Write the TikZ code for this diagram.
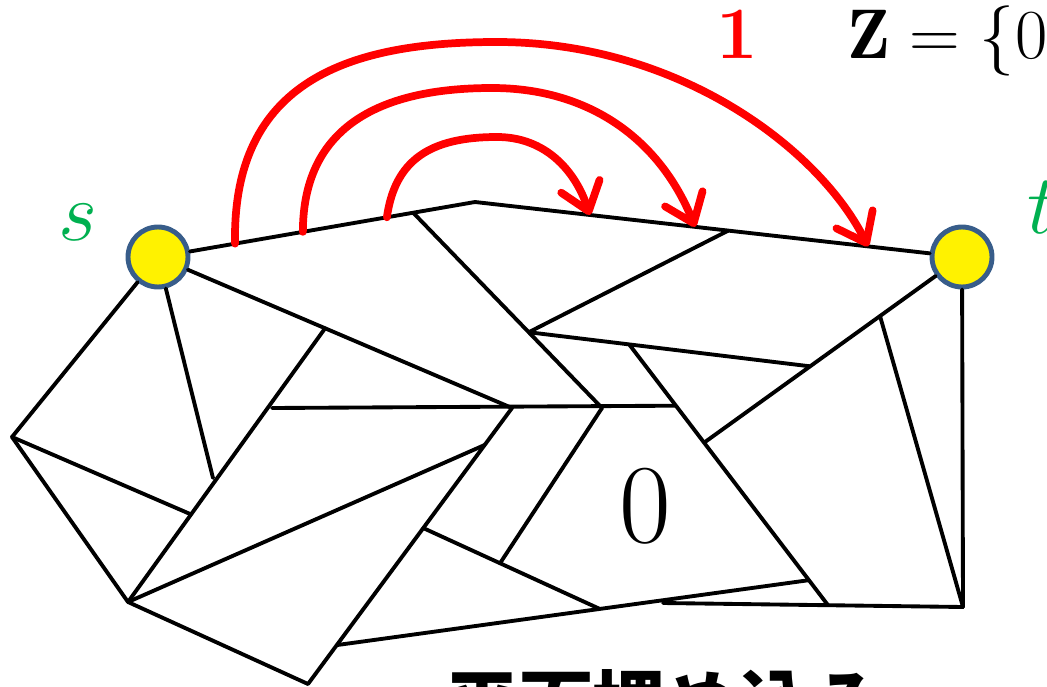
\RequirePackage{fix-cm}
\documentclass[tikz,border=0pt]{standalone}
\usepackage{amsmath,amssymb}
\usepackage{fontspec}
\newfontfamily\jpfont{Noto Sans CJK JP}
\usetikzlibrary{arrows.meta,calc}
\definecolor{vtxline}{RGB}{56,93,138}
\definecolor{lblgreen}{RGB}{0,176,80}

\begin{document}
\begin{tikzpicture}[x=0.02cm,y=-0.02cm,
    edge/.style={line width=2.2pt, line cap=round, line join=round},
    jump/.style={red, line width=4.4pt, line cap=round, -{Straight Barb[length=15pt,width=23pt,round]}},
    vtx/.style={circle, draw=vtxline, line width=2.8pt, fill=yellow, minimum size=1.2cm, inner sep=0pt}]
    \useasboundingbox (0,0) rectangle (1047,686);

    \node[vtx] (s) at (158,257) {};
    \node[vtx] (t) at (962,257) {};
    \node[text=lblgreen, font=\fontsize{48}{50}\selectfont, anchor=base] (slbl) at (78,240) {$s$};
    \node[text=lblgreen, font=\fontsize{48}{50}\selectfont, anchor=base west, inner sep=0pt] (tlbl) at (1027,233) {$t$};

    % corners of the faces
    \coordinate (P) at (475,202);
    \coordinate (C) at (602,408);
    \coordinate (F) at (705,442);
    \coordinate (O) at (512,408);
    \coordinate (Q) at (272,408);
    \coordinate (N) at (308,684);
    \coordinate (W) at (128,602);
    \coordinate (X) at (12,437);
    \coordinate (J) at (963,607);
    \coordinate (K) at (663,603);
    \coordinate (Z1) at (213,478);
    \coordinate (A) at ($(s)!0.805!(P)$);
    \coordinate (B) at ($(A)!0.612!(C)$);
    \coordinate (D) at ($(P)!0.52!(t)$);
    \coordinate (E) at ($(t)!0.591!(F)$);
    \coordinate (I) at ($(t)!0.319!(F)$);
    \coordinate (G) at ($(B)!0.357!(E)$);
    \coordinate (H) at ($(K)!0.55!(J)$);
    \coordinate (R) at ($(G)!0.235!(H)$);
    \coordinate (L) at ($(G)!0.904!(H)$);
    \coordinate (Y) at ($(s)!0.472!(O)$);
    \coordinate (V) at ($(O)!0.134!(N)$);
    \coordinate (U) at ($(O)!0.435!(N)$);
    \coordinate (M) at ($(O)!0.859!(N)$);
    \coordinate (S2) at ($(M)!0.557!(L)$);
    \coordinate (S1) at ($(U)!0.435!(S2)$);
    \coordinate (Z2) at ($(Y)!0.68!(W)$);

    \draw[edge] (s) -- (P) -- (t);
    \draw[edge] (A) -- (C);
    \draw[edge] (B) -- (D);
    \draw[edge] (B) -- (E);
    \draw[edge] (G) -- (H);
    \draw[edge] (t) -- (F);
    \draw[edge] (I) -- (J);
    \draw[edge] (t) -- (J);
    \draw[edge] (K) -- (J);
    \draw[edge] (M) -- (L);
    \draw[edge] (C) -- (S1);
    \draw[edge] (U) -- (S2);
    \draw[edge] (O) -- (N);
    \draw[edge] (W) -- (V);
    \draw[edge] (W) -- (N);
    \draw[edge] (s) -- (O);
    \draw[edge] (Q) -- (R);
    \draw[edge] (Y) -- (W);
    \draw[edge] (s) -- (Z1);
    \draw[edge] (s) -- (X);
    \draw[edge] (X) -- (W);
    \draw[edge] (X) -- (Z2);

    % jumps over the outer face
    \coordinate (a1) at ($(s)!0.722!(P)$);
    \coordinate (a2) at ($(s)!0.457!(P)$);
    \coordinate (a3) at ($(s)!0.243!(P)$);
    \coordinate (b1) at ($(P)!0.236!(t)$);
    \coordinate (b2) at ($(P)!0.452!(t)$);
    \coordinate (b3) at ($(P)!0.807!(t)$);
    \draw[jump] (a1) .. controls (395,160) and (430,137) .. (497,137)
        .. controls (545,137) and (575,170) .. (b1);
    \draw[jump] (a2) .. controls (303,120) and (390,88) .. (492,88)
        .. controls (590,88) and (660,140) .. (b2);
    \draw[jump] (a3) .. controls (232,80) and (350,42) .. (497,42)
        .. controls (680,42) and (820,150) .. (b3);

    \node[text=red, font=\fontsize{42}{46}\selectfont\bfseries, anchor=base] (one) at (737,59) {1};
    \node[font=\fontsize{40}{44}\selectfont, anchor=base west, inner sep=0pt] (zset) at (847,59) {$\mathbf{Z}=\{0$};
    \node[font=\fontsize{64}{70}\selectfont, anchor=base] (zero) at (645,542) {0};
    \node[font=\jpfont\bfseries\fontsize{42}{46}\selectfont, anchor=base west, inner sep=0pt] (caption) at (445,731) {平面埋め込み};
\end{tikzpicture}
\end{document}
